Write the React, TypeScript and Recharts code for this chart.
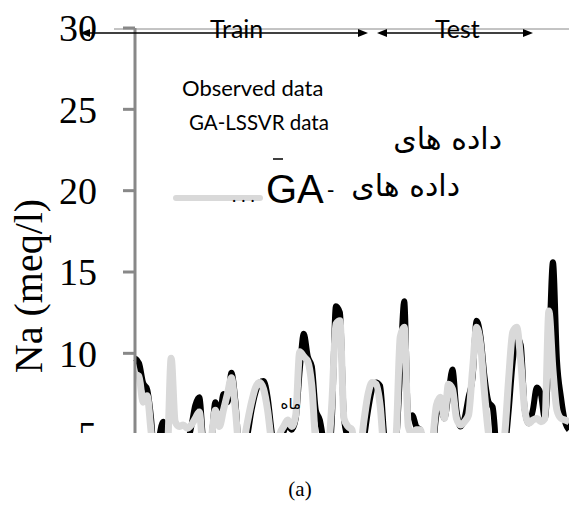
import { LineChart, Line, XAxis, YAxis } from 'recharts'

// Na (meq/l), monthly
const observed = [
  9.7, 9.4, 8.2, 7.8, 6.0, 3.0, 4.8, 5.8, 3.5, 3.0,
  4.0, 4.5, 4.3, 4.5, 5.5, 6.8, 7.3, 4.5, 3.5, 4.5,
  7.0, 6.0, 7.5, 7.0, 8.8, 7.0, 4.0, 3.8, 5.0, 6.5,
  7.6, 8.2, 8.3, 7.3, 5.2, 3.5, 4.5, 5.2, 5.6, 5.3,
  6.0, 9.0, 11.2, 9.8, 9.2, 6.5, 5.9, 4.5, 3.5, 6.0,
  12.9, 12.5, 6.0, 4.8, 4.5, 3.0, 3.5, 4.8, 6.5, 7.8,
  8.2, 8.0, 5.0, 3.5, 3.0, 4.5, 9.0, 13.2, 6.0, 6.2,
  5.5, 5.3, 4.0, 3.5, 4.0, 6.2, 6.8, 6.0, 7.5, 9.0,
  6.5, 5.5, 6.0, 7.3, 8.5, 12.0, 11.0, 8.5, 7.0, 6.7,
  4.0, 3.0, 4.0, 6.5, 9.5, 11.0, 10.5, 6.5, 5.7, 6.5,
  7.9, 7.5, 6.0, 10.0, 15.6, 9.6, 7.3, 5.8, 5.3,
]

const predicted = [
  8.7, 8.6, 7.0, 7.4, 5.2, 3.0, 3.5, 4.8, 4.0, 9.7,
  5.8, 5.5, 5.6, 5.4, 5.6, 6.0, 6.4, 4.0, 3.8, 4.8,
  6.5, 5.5, 6.5, 7.5, 8.5, 6.5, 4.0, 4.5, 5.8, 7.0,
  7.9, 8.2, 7.8, 6.5, 4.5, 3.5, 5.0, 5.5, 5.9, 5.5,
  6.2, 10.1, 9.8, 9.5, 8.0, 4.5, 3.5, 3.8, 4.0, 7.0,
  11.8, 12.0, 6.0, 5.5, 5.3, 3.5, 4.0, 5.9, 7.5, 8.2,
  8.1, 6.8, 4.0, 3.5, 3.5, 5.0, 11.0, 11.6, 5.5, 5.0,
  5.3, 5.3, 4.0, 3.5, 4.5, 6.8, 7.3, 6.0, 8.1, 7.8,
  6.0, 5.6, 5.8, 6.2, 9.0, 11.6, 10.5, 7.5, 5.0, 4.0,
  3.5, 3.5, 5.0, 8.5, 11.3, 11.6, 9.5, 6.5, 5.7, 5.9,
  6.0, 5.8, 6.0, 12.6, 9.0, 6.5, 6.0, 5.9, 5.8,
]

const months = Array.from({ length: observed.length }, (_, i) => i + 1)
const yTicks = [5, 10, 15, 20, 25, 30]

const data = months.map((m, i) => ({
  month: m,
  observed: observed[i],
  predicted: predicted[i],
}))

const sans = 'Lato, "Open Sans", sans-serif'
const serif = '"Liberation Serif", "Times New Roman", serif'
const arabic = '"DejaVu Sans", sans-serif'
const arial = '"Liberation Sans", Arial, sans-serif'

const Arrow = ({ x1, x2, y }: { x1: number; x2: number; y: number }) => (
  <g>
    <line x1={x1 + 8} x2={x2 - 8} y1={y} y2={y} stroke="#000" strokeWidth={1.5} />
    <polygon points={`${x1},${y} ${x1 + 10},${y - 4} ${x1 + 10},${y + 4}`} fill="#000" />
    <polygon points={`${x2},${y} ${x2 - 10},${y - 4} ${x2 - 10},${y + 4}`} fill="#000" />
  </g>
)

const App = () => {
  return (
    <div
      style={{
        position: 'absolute',
        left: 0,
        top: 0,
        width: 569,
        height: 505,
        background: '#fff',
        overflow: 'hidden',
      }}
    >
      <div style={{ position: 'absolute', left: 0, top: 0, width: 569, height: 433, overflow: 'hidden' }}>
        <LineChart
          width={569}
          height={540}
          data={data}
          margin={{ top: 28, right: 0, left: 0, bottom: 24 }}
        >
          <XAxis dataKey="month" type="number" domain={[1, months.length]} hide />
          <YAxis
            width={135}
            domain={[0, 30]}
            ticks={yTicks}
            interval={0}
            axisLine={{ stroke: '#888', strokeWidth: 3 }}
            tickLine={{ stroke: '#888', strokeWidth: 3 }}
            tickSize={12}
            tickMargin={26}
            tick={{ fill: '#000', fontSize: 38, fontFamily: serif }}
          />
          <Line
            type="monotone"
            dataKey="observed"
            stroke="#000"
            strokeWidth={6}
            dot={false}
            isAnimationActive={false}
          />
          <Line
            type="monotone"
            dataKey="predicted"
            stroke="#d9d9d9"
            strokeWidth={7}
            dot={false}
            isAnimationActive={false}
          />
        </LineChart>
      </div>
      <svg
        width={569}
        height={505}
        style={{ position: 'absolute', left: 0, top: 0, pointerEvents: 'none' }}
      >
        <line x1={114} x2={569} y1={29} y2={29} stroke="#888" strokeWidth={1} />
        <Arrow x1={80} x2={368} y={33} />
        <Arrow x1={377} x2={533} y={33} />
        <text x={210} y={38} fontFamily={sans} fontSize={25}>Train</text>
        <text x={435} y={38} fontFamily={sans} fontSize={25}>Test</text>
        <text x={182} y={96} fontFamily={sans} fontSize={22}>Observed data</text>
        <text x={189} y={130} fontFamily={sans} fontSize={20.5}>GA-LSSVR data</text>
        <text x={502} y={149} fontFamily={arabic} fontSize={30} textAnchor="end">
          داده های
        </text>
        <line x1={273} x2={283} y1={159} y2={159} stroke="#000" strokeWidth={1.5} />
        <line x1={176} x2={260} y1={198} y2={198} stroke="#d9d9d9" strokeWidth={6} strokeLinecap="round" />
        <text x={232} y={202} fontFamily={sans} fontSize={18} letterSpacing={5}>...</text>
        <text x={266} y={203} fontFamily={arial} fontSize={40}>GA</text>
        <text x={327} y={197} fontFamily={arial} fontSize={22}>-</text>
        <text x={460} y={196} fontFamily={arabic} fontSize={30} textAnchor="end">
          داده های
        </text>
        <text x={301} y={409} fontFamily={arabic} fontSize={15} textAnchor="end">
          ماه
        </text>
        <text
          x={42}
          y={286}
          transform="rotate(-90 42 286)"
          textAnchor="middle"
          fontFamily={serif}
          fontSize={40}
        >
          Na (meq/l)
        </text>
        <text x={300} y={496} textAnchor="middle" fontFamily={serif} fontSize={21}>
          (a)
        </text>
      </svg>
    </div>
  )
}

export default App
